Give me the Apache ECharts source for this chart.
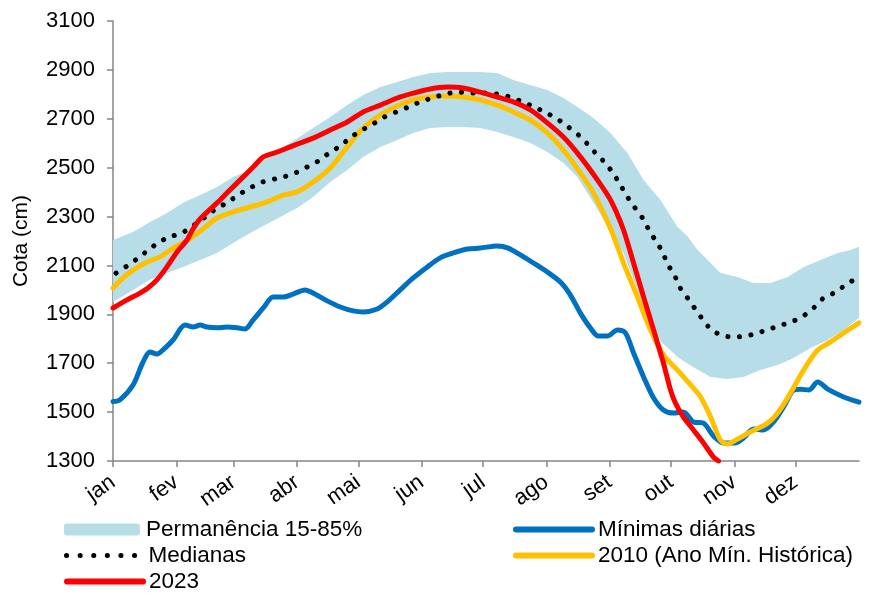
<!DOCTYPE html>
<html><head><meta charset="utf-8">
<script src="https://cdn.jsdelivr.net/npm/echarts@6/dist/echarts.min.js"></script>
<style>html,body{margin:0;padding:0;background:#fff}#c{width:886px;height:597px}</style>
</head><body><div id="c"></div>
<script>
const monthNames = ['jan','fev','mar','abr','mai','jun','jul','ago','set','out','nov','dez'];
const monthStarts = [0,31,59,90,120,151,181,212,243,273,304,334];
const yTicks = [1300,1500,1700,1900,2100,2300,2500,2700,2900,3100];

// [day of year, cota cm]
const bandUpper = [[0,2204],[9.8,2237],[18.1,2278],[26.4,2315],[34.3,2356],[42.6,2388],[50.9,2421],[58.8,2462],[67.1,2490],[75.4,2540],[83.3,2585],[91.6,2628],[97.9,2662],[106.3,2707],[114.6,2756],[122.4,2797],[130.8,2830],[139.1,2850],[146.9,2871],[155.2,2887],[163.6,2891],[171.4,2891],[179.7,2891],[188,2887],[195.9,2859],[204.2,2838],[212.5,2818],[220.4,2785],[227.2,2748],[235.1,2703],[243.4,2642],[251.7,2560],[259.6,2450],[267.9,2368],[276.2,2257],[281,2220],[286,2163],[292.4,2110],[297.2,2069],[305.6,2053],[313.4,2028],[321.7,2028],[330.1,2053],[337.9,2094],[346.2,2122],[354.6,2151],[360.9,2163],[365,2176]];
const bandLower = [[0,1950],[9.8,2000],[18.1,2041],[26.4,2069],[34.3,2094],[42.6,2122],[50.9,2151],[58.8,2192],[67.1,2233],[81.8,2298],[90.1,2335],[97.9,2380],[106.3,2441],[114.6,2490],[122.4,2544],[130.8,2585],[139.1,2613],[146.9,2642],[155.2,2662],[163.6,2666],[171.4,2666],[179.7,2662],[188,2646],[195.9,2625],[204.2,2601],[212.5,2564],[220.4,2519],[227.2,2462],[235.1,2356],[243.4,2240],[249.8,2150],[256.6,2000],[263,1860],[267.9,1790],[276.2,1725],[284,1684],[292.4,1644],[300.7,1635],[308.5,1644],[316.8,1672],[325.2,1693],[333,1721],[341.3,1762],[349.7,1795],[357.5,1836],[365,1885]];
const minimas = [[0,1543],[3.4,1550],[9.8,1611],[14.7,1705],[18.1,1746],[21.5,1738],[24.5,1755],[29.4,1795],[35.3,1856],[39.2,1848],[42.6,1856],[46,1848],[50.9,1845],[55.8,1848],[60.7,1845],[64.6,1840],[68.6,1877],[73.5,1926],[78.4,1971],[83.3,1971],[88.1,1983],[94,2000],[97.9,1987],[104.8,1955],[111.2,1930],[117.5,1914],[122.4,1910],[129.3,1922],[134.2,1951],[140.5,2000],[146.9,2049],[153.8,2094],[160.1,2131],[166.5,2151],[173.4,2167],[179.7,2171],[188,2180],[193.4,2171],[199.3,2143],[205.7,2110],[212.5,2073],[218.9,2032],[223.8,1979],[228.7,1905],[233.6,1844],[237.5,1811],[241.9,1811],[246.8,1836],[250.7,1824],[254.7,1742],[259.6,1644],[264.5,1558],[269.3,1509],[274.2,1496],[279.1,1500],[284,1460],[288.9,1455],[293.8,1402],[298.7,1374],[304.6,1374],[308.5,1394],[313.4,1431],[318.3,1427],[323.2,1460],[328.1,1521],[333,1590],[336.4,1594],[340.4,1590],[344.8,1623],[349.7,1594],[357.5,1562],[365,1541]];
const ano2010 = [[0,2008],[4.9,2049],[9.8,2081],[16.7,2114],[23,2135],[29.4,2171],[34.3,2192],[42.6,2240],[50.9,2294],[58.8,2319],[67.1,2339],[75.4,2360],[83.3,2388],[90.1,2401],[97.9,2441],[106.3,2499],[114.6,2585],[122.4,2662],[130.8,2715],[139.1,2752],[146.9,2777],[155.2,2789],[163.6,2793],[171.4,2789],[179.7,2777],[188,2756],[195.9,2728],[204.2,2695],[212.5,2642],[220.4,2572],[228.7,2478],[235.1,2396],[243.4,2251],[249.8,2110],[256.6,1971],[263,1836],[269.3,1734],[276.2,1672],[282.6,1611],[287.5,1562],[292.4,1480],[297.2,1386],[300.7,1370],[305.6,1390],[311.9,1419],[320.3,1455],[325.2,1496],[331.5,1578],[337.9,1672],[344.8,1754],[351.1,1787],[357.5,1824],[365,1865]];
const ano2023 = [[0,1926],[6.9,1959],[13.2,1987],[17.1,2008],[21.5,2041],[26.4,2094],[31.3,2155],[36.2,2204],[39.2,2250],[42.6,2290],[50.9,2356],[55.8,2397],[62.2,2450],[68.6,2503],[73.5,2544],[80.3,2564],[86.7,2585],[91.6,2601],[97.9,2621],[106.3,2654],[114.6,2687],[122.4,2728],[130.8,2756],[139.1,2785],[146.9,2805],[155.2,2822],[163.6,2830],[171.4,2826],[179.7,2809],[188,2789],[195.9,2769],[204.2,2736],[212.5,2683],[220.4,2625],[228.7,2544],[237,2450],[243.4,2368],[249.8,2245],[254.7,2110],[259.6,1971],[264.5,1836],[269.3,1701],[272.8,1590],[275.2,1537],[279.1,1480],[284,1427],[288.9,1374],[293.8,1316],[296.3,1300]];
const medianas = [[1.5,2069],[6.9,2098],[11.8,2127],[16.7,2159],[22,2192],[27.4,2216],[33.8,2233],[45.1,2298],[50.9,2335],[55.8,2356],[61.2,2388],[67.1,2417],[73,2441],[83.3,2462],[89.1,2478],[95,2503],[100.4,2527],[105.8,2560],[111.2,2589],[116.6,2626],[121.9,2654],[127.3,2679],[132.7,2707],[138.6,2728],[144.5,2748],[150.3,2769],[156.2,2785],[162.6,2801],[169,2809],[175.8,2805],[182.2,2805],[188,2801],[194.4,2789],[200.3,2769],[206.2,2748],[212,2724],[217.4,2699],[222.8,2666],[227.7,2634],[232.1,2597],[236.5,2556],[240.9,2519],[244.9,2474],[248.3,2429],[251.7,2380],[255.1,2339],[259.1,2294],[262,2249],[265.4,2202],[268.9,2155],[271.3,2106],[274.7,2061],[277.2,2012],[281.1,1967],[284.5,1926],[288.4,1881],[292.4,1840],[297.7,1815],[303.6,1807],[309.5,1811],[315.4,1824],[321.3,1840],[327.1,1856],[333,1873],[338.4,1897],[343.3,1930],[347.7,1967],[353.6,1991],[359,2024],[364.3,2049]];

const FONT = "'Liberation Sans', Arial, sans-serif";
const chart = echarts.init(document.getElementById('c'), null, {renderer:'canvas'});
const legendText = {fontFamily: FONT, fontSize: 22.5, color: '#000', padding: [0, 0, 0, 1]};
function leg(name, left, cy, lineStyle) {
  const o = {orient: 'horizontal', left: left, top: cy - 12, itemWidth: 76, itemHeight: 12, itemGap: 0,
    padding: 0, textStyle: legendText, data: [{name: name}]};
  if (lineStyle) {
    o.data[0].lineStyle = lineStyle;
    o.data[0].itemStyle = {opacity: 0, borderWidth: 0};
  }
  return o;
}
chart.setOption({
  animation: false,
  backgroundColor: '#fff',
  grid: {left: 113, right: 27, top: 21, bottom: 136, containLabel: false, outerBoundsMode: 'none'},
  legend: [
    leg('Permanência 15-85%', 64, 530),
    leg('Medianas', 64, 556, {width: 5, type: [0.1, 13.5], cap: 'round'}),
    leg('2023', 64, 582, {width: 6, cap: 'round'}),
    leg('Mínimas diárias', 513, 530, {width: 6, cap: 'round'}),
    leg('2010 (Ano Mín. Histórica)', 513, 556, {width: 6, cap: 'round'})
  ],
  xAxis: {
    type: 'value', min: 0, max: 365,
    splitLine: {show: false},
    axisLine: {show: true, lineStyle: {color: '#868686', width: 1.5}},
    axisTick: {show: true, length: 6, lineStyle: {color: '#868686', width: 1.5}, customValues: monthStarts},
    axisLabel: {customValues: monthStarts, rotate: 35, margin: 19, fontFamily: FONT, fontSize: 22, color: '#000',
      formatter: v => monthNames[monthStarts.indexOf(v)]}
  },
  yAxis: {
    type: 'value', min: 1300, max: 3100, interval: 200,
    name: 'Cota (cm)', nameLocation: 'middle', nameGap: 81, nameRotate: 90,
    nameTextStyle: {fontFamily: FONT, fontSize: 21, color: '#000'},
    splitLine: {show: false},
    axisLine: {show: true, lineStyle: {color: '#868686', width: 1.5}},
    axisTick: {show: true, length: 6, lineStyle: {color: '#868686', width: 1.5}},
    axisLabel: {margin: 18, fontFamily: FONT, fontSize: 22, color: '#000', formatter: v => String(v)}
  },
  series: [
    {name: 'Permanência 15-85%', type: 'custom', z: 1, itemStyle: {color: '#B7DEE8'},
     data: [[180, 2500]], legendIcon: 'rect',
     renderItem: function (params, api) {
       const pts = bandUpper.map(p => api.coord(p)).concat(bandLower.slice().reverse().map(p => api.coord(p)));
       return {type: 'polygon', shape: {points: pts}, style: {fill: '#B7DEE8'}};
     }},
    {name: 'Mínimas diárias', type: 'line', z: 3, data: minimas, symbol: 'none', smooth: 0.3,
     itemStyle: {color: '#0070C0'}, lineStyle: {color: '#0070C0', width: 5, cap: 'round', join: 'round'}},
    {name: '2010 (Ano Mín. Histórica)', type: 'line', z: 4, data: ano2010, symbol: 'none', smooth: 0.3,
     itemStyle: {color: '#FFC000'}, lineStyle: {color: '#FFC000', width: 5, cap: 'round', join: 'round'}},
    {name: 'Medianas', type: 'line', z: 5, data: medianas, symbol: 'none', smooth: 0.3,
     itemStyle: {color: '#000'}, lineStyle: {color: '#000', width: 5, type: [0.1, 11.5], cap: 'round'}},
    {name: '2023', type: 'line', z: 6, data: ano2023, symbol: 'none', smooth: 0.2,
     itemStyle: {color: '#FF0000'}, lineStyle: {color: '#FF0000', width: 5, cap: 'round', join: 'round'}}
  ]
});
</script></body></html>
